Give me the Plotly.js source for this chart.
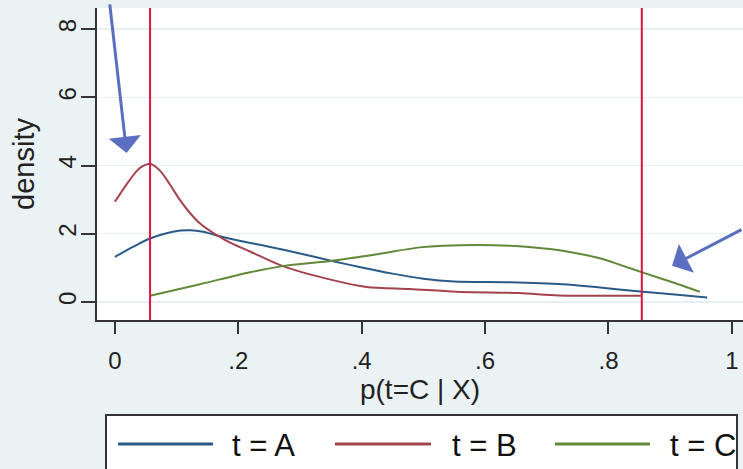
<!DOCTYPE html>
<html>
<head>
<meta charset="utf-8">
<script src="https://cdn.plot.ly/plotly-3.0.1.min.js"></script>
<style>
  html, body { margin: 0; padding: 0; background: #eaf2f3; }
  #chart { width: 743px; height: 469px; }
</style>
</head>
<body>
<div id="chart"></div>
<script>
// ---- data ----
const seriesNames = ['t = A', 't = B', 't = C'];

const xA = [0, 0.03, 0.057, 0.094, 0.122, 0.143, 0.165, 0.2, 0.25, 0.30, 0.35, 0.40, 0.45, 0.50, 0.55, 0.64, 0.726, 0.786, 0.856, 0.916, 0.96];
const yA = [1.32, 1.62, 1.86, 2.06, 2.10, 2.06, 1.95, 1.80, 1.62, 1.42, 1.21, 1.01, 0.83, 0.68, 0.60, 0.58, 0.52, 0.42, 0.30, 0.20, 0.13];

const xB = [0, 0.019, 0.036, 0.045, 0.057, 0.073, 0.089, 0.105, 0.122, 0.138, 0.165, 0.191, 0.219, 0.272, 0.353, 0.408, 0.478, 0.554, 0.656, 0.72, 0.854];
const yB = [2.94, 3.45, 3.85, 3.98, 4.05, 3.85, 3.45, 3.00, 2.60, 2.30, 1.96, 1.70, 1.48, 1.05, 0.64, 0.44, 0.38, 0.30, 0.26, 0.19, 0.18];

const xC = [0.057, 0.138, 0.219, 0.272, 0.353, 0.425, 0.494, 0.532, 0.64, 0.705, 0.75, 0.786, 0.82, 0.856, 0.90, 0.948];
const yC = [0.18, 0.52, 0.87, 1.05, 1.21, 1.40, 1.60, 1.65, 1.65, 1.55, 1.42, 1.28, 1.08, 0.86, 0.60, 0.30];

const cutoffs = [0.057, 0.854];

const xTickVals = [0, 0.2, 0.4, 0.6, 0.8, 1];
const xTickText = ['0', '.2', '.4', '.6', '.8', '1'];
const yTickVals = [0, 2, 4, 6, 8];
const yTickText = ['0', '2', '4', '6', '8'];

// ---- styles ----
const colors = ['#2a5b88', '#a3434d', '#62883a'];
const FONT = 'Liberation Sans, Arial, sans-serif';
const W = 743, H = 469;
const M = {l: 97, r: 0, t: 8, b: 149};
const PW = W - M.l - M.r, PH = H - M.t - M.b;
const px2x = p => (p - M.l) / PW;          // pixel -> paper x
const px2y = p => (H - M.b - p) / PH;      // pixel -> paper y

const xs = [xA, xB, xC], ys = [yA, yB, yC];
const traces = seriesNames.map((n, i) => ({
  x: xs[i], y: ys[i], name: n, type: 'scatter', mode: 'lines',
  line: {color: colors[i], width: 2, shape: 'spline', smoothing: 0.8},
  showlegend: false, hoverinfo: 'skip'
}));

const shapes = [];
cutoffs.forEach(c => shapes.push({
  type: 'line', xref: 'x', yref: 'paper', x0: c, x1: c, y0: 0, y1: 1,
  line: {color: '#dc1540', width: 2}, layer: 'above'
}));

// legend box (manual, Stata style)
shapes.push({
  type: 'rect', xref: 'paper', yref: 'paper',
  x0: px2x(106), x1: px2x(737), y0: px2y(415), y1: px2y(485),
  fillcolor: 'white', line: {color: '#333', width: 2}
});
const legLine = [[118, 213], [335, 431], [555, 650]];
const legText = [230, 450, 668];
const legY = 444;
const annotations = [];
seriesNames.forEach((n, i) => {
  shapes.push({
    type: 'line', xref: 'paper', yref: 'paper',
    x0: px2x(legLine[i][0]), x1: px2x(legLine[i][1]), y0: px2y(legY), y1: px2y(legY),
    line: {color: colors[i], width: 3}
  });
  annotations.push({
    xref: 'paper', yref: 'paper', x: px2x(legText[i]), y: px2y(legY + 2),
    xanchor: 'left', yanchor: 'middle', text: n, showarrow: false,
    font: {family: FONT, size: 31, color: '#111'}
  });
});

// pointing arrows
annotations.push({
  xref: 'x', yref: 'y', x: 0.019, y: 4.37, ax: -17, ay: -150,
  showarrow: true, arrowhead: 1, arrowsize: 1.8, arrowwidth: 3, arrowcolor: '#5a6fbf', text: ''
});
annotations.push({
  xref: 'x', yref: 'y', x: 0.903, y: 1.06, ax: 80, ay: -37,
  showarrow: true, arrowhead: 1, arrowsize: 1.8, arrowwidth: 3, arrowcolor: '#5a6fbf', text: ''
});

const axisCommon = {
  showline: true, linecolor: '#333', linewidth: 2, ticks: 'outside',
  tickcolor: '#333', tickwidth: 2, zeroline: false,
  tickfont: {family: FONT, size: 24, color: '#222'}
};

const layout = {
  width: W, height: H, margin: {l: M.l, r: M.r, t: M.t, b: M.b, pad: 0},
  paper_bgcolor: '#eaf2f3', plot_bgcolor: '#ffffff',
  showlegend: false,
  xaxis: Object.assign({}, axisCommon, {
    range: [-0.029, 1.018], tickmode: 'array', tickvals: xTickVals, ticktext: xTickText,
    ticklen: 12, showgrid: false, ticklabelstandoff: 6,
    title: {text: 'p(t=C | X)', font: {family: FONT, size: 28, color: '#222'}, standoff: 6}
  }),
  yaxis: Object.assign({}, axisCommon, {
    range: [-0.53, 8.62], tickmode: 'array', tickvals: yTickVals, ticktext: yTickText,
    ticklen: 14, tickangle: -90, showgrid: true, gridcolor: '#e6eff1', gridwidth: 1.5,
    ticklabelstandoff: -5,
    title: {text: 'density', font: {family: FONT, size: 29, color: '#222'}, standoff: 11}
  }),
  shapes: shapes,
  annotations: annotations
};

Plotly.newPlot('chart', traces, layout, {staticPlot: true, displayModeBar: false});
</script>
</body>
</html>
